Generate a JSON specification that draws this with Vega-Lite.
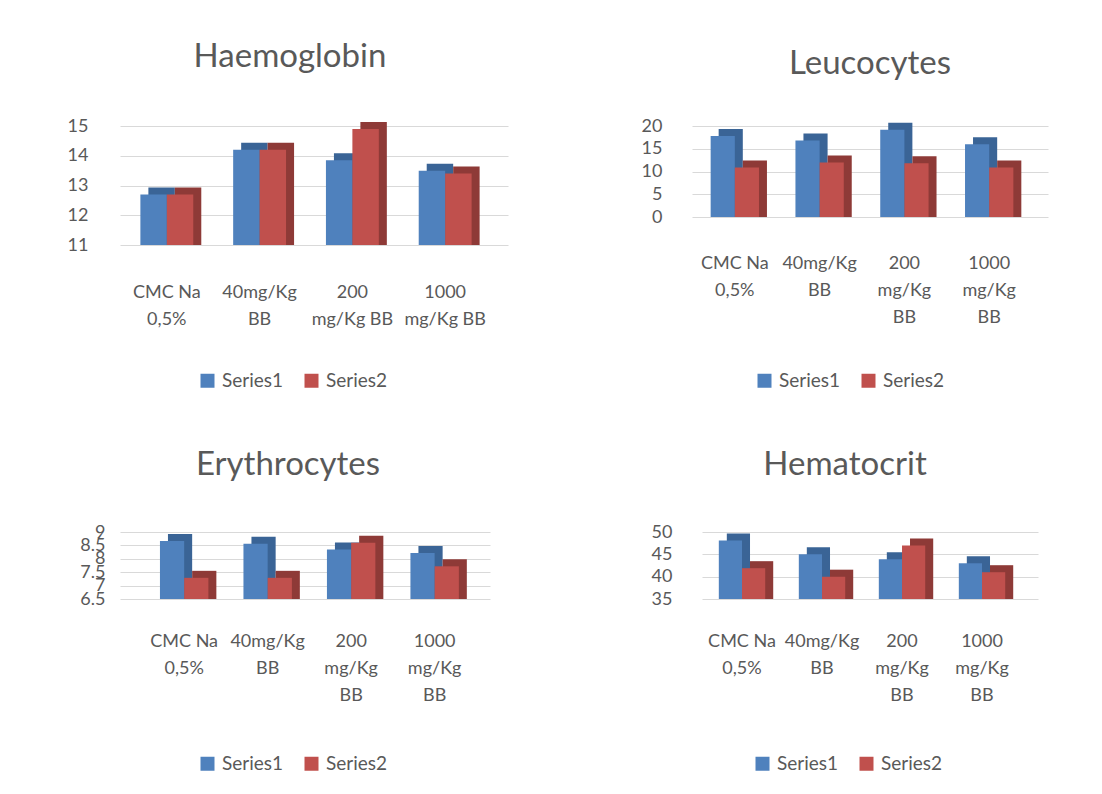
{
  "$schema": "https://vega.github.io/schema/vega-lite/v6.json",
  "background": "white",
  "padding": {"left": 67, "top": 41, "right": 10, "bottom": 10},
  "datasets": {
    "blood": [
      {"panel": "Haemoglobin", "group": "CMC Na 0,5%", "series": "Series1", "value": 12.7},
      {"panel": "Haemoglobin", "group": "CMC Na 0,5%", "series": "Series2", "value": 12.7},
      {"panel": "Haemoglobin", "group": "40mg/Kg BB", "series": "Series1", "value": 14.2},
      {"panel": "Haemoglobin", "group": "40mg/Kg BB", "series": "Series2", "value": 14.2},
      {"panel": "Haemoglobin", "group": "200 mg/Kg BB", "series": "Series1", "value": 13.85},
      {"panel": "Haemoglobin", "group": "200 mg/Kg BB", "series": "Series2", "value": 14.9},
      {"panel": "Haemoglobin", "group": "1000 mg/Kg BB", "series": "Series1", "value": 13.5},
      {"panel": "Haemoglobin", "group": "1000 mg/Kg BB", "series": "Series2", "value": 13.4},
      {"panel": "Leucocytes", "group": "CMC Na 0,5%", "series": "Series1", "value": 17.8},
      {"panel": "Leucocytes", "group": "CMC Na 0,5%", "series": "Series2", "value": 10.9},
      {"panel": "Leucocytes", "group": "40mg/Kg BB", "series": "Series1", "value": 16.8},
      {"panel": "Leucocytes", "group": "40mg/Kg BB", "series": "Series2", "value": 12.0},
      {"panel": "Leucocytes", "group": "200 mg/Kg BB", "series": "Series1", "value": 19.2},
      {"panel": "Leucocytes", "group": "200 mg/Kg BB", "series": "Series2", "value": 11.8},
      {"panel": "Leucocytes", "group": "1000 mg/Kg BB", "series": "Series1", "value": 16.0},
      {"panel": "Leucocytes", "group": "1000 mg/Kg BB", "series": "Series2", "value": 10.9},
      {"panel": "Erythrocytes", "group": "CMC Na 0,5%", "series": "Series1", "value": 8.66},
      {"panel": "Erythrocytes", "group": "CMC Na 0,5%", "series": "Series2", "value": 7.29},
      {"panel": "Erythrocytes", "group": "40mg/Kg BB", "series": "Series1", "value": 8.56},
      {"panel": "Erythrocytes", "group": "40mg/Kg BB", "series": "Series2", "value": 7.29},
      {"panel": "Erythrocytes", "group": "200 mg/Kg BB", "series": "Series1", "value": 8.35},
      {"panel": "Erythrocytes", "group": "200 mg/Kg BB", "series": "Series2", "value": 8.6},
      {"panel": "Erythrocytes", "group": "1000 mg/Kg BB", "series": "Series1", "value": 8.22},
      {"panel": "Erythrocytes", "group": "1000 mg/Kg BB", "series": "Series2", "value": 7.72},
      {"panel": "Hematocrit", "group": "CMC Na 0,5%", "series": "Series1", "value": 48.1},
      {"panel": "Hematocrit", "group": "CMC Na 0,5%", "series": "Series2", "value": 41.9},
      {"panel": "Hematocrit", "group": "40mg/Kg BB", "series": "Series1", "value": 45.0},
      {"panel": "Hematocrit", "group": "40mg/Kg BB", "series": "Series2", "value": 40.0},
      {"panel": "Hematocrit", "group": "200 mg/Kg BB", "series": "Series1", "value": 43.9},
      {"panel": "Hematocrit", "group": "200 mg/Kg BB", "series": "Series2", "value": 47.0},
      {"panel": "Hematocrit", "group": "1000 mg/Kg BB", "series": "Series1", "value": 43.0},
      {"panel": "Hematocrit", "group": "1000 mg/Kg BB", "series": "Series2", "value": 41.0}
    ]
  },
  "data": {"name": "blood"},
  "config": {
    "font": "Lato",
    "view": {"stroke": null},
    "title": {"fontSize": 33, "fontWeight": "normal", "color": "#595959", "anchor": "middle"},
    "axis": {
      "domain": false, "ticks": false, "title": null,
      "labelFontSize": 18, "labelColor": "#595959", "labelFont": "Lato",
      "gridColor": "#d9d9d9", "gridWidth": 1
    },
    "axisX": {"grid": false, "labelAngle": 0, "labelLineHeight": 27, "labelBaseline": "top"},
    "axisY": {"labelOverlap": false, "format": "~g"},
    "legend": {
      "orient": "none", "direction": "horizontal", "title": null,
      "symbolType": "square", "symbolSize": 196, "symbolStrokeWidth": 0,
      "labelFontSize": 19, "labelColor": "#595959", "columnPadding": 18, "labelOffset": 5
    }
  },
  "resolve": {"scale": {"color": "independent", "fill": "independent", "x": "independent", "y": "independent"}, "legend": {"color": "independent"}},
  "spacing": 58,
  "vconcat": [
    {
      "resolve": {"scale": {"color": "independent", "fill": "independent", "x": "independent", "y": "independent"}, "legend": {"color": "independent"}},
      "spacing": 133,
      "hconcat": [
        {
          "width": 388, "height": 119,
          "title": {"text": "Haemoglobin", "offset": 43, "dx": -24},
          "transform": [{"filter": "datum.panel === 'Haemoglobin'"}],
          "encoding": {
            "x": {"field": "group", "type": "nominal", "sort": ["CMC Na 0,5%", "40mg/Kg BB", "200 mg/Kg BB", "1000 mg/Kg BB"],
              "scale": {"paddingInner": 0.43, "paddingOuter": 0.306, "align": 0.359},
              "axis": {"labelPadding": 38, "labelExpr": "datum.label == 'CMC Na 0,5%' ? ['CMC Na','0,5%'] : datum.label == '40mg/Kg BB' ? ['40mg/Kg','BB'] : datum.label == '200 mg/Kg BB' ? ['200','mg/Kg BB'] : ['1000','mg/Kg BB']"}},
            "y": {"field": "value", "type": "quantitative", "scale": {"domain": [11, 15], "zero": false, "nice": false},
              "axis": {"values": [11, 12, 13, 14, 15], "labelPadding": 32}},
            "y2": {"datum": 11}
          },
          "resolve": {"scale": {"xOffset": "independent"}},
          "layer": [
            {"mark": {"type": "bar", "yOffset": -7},
             "encoding": {
               "xOffset": {"field": "series", "type": "nominal", "scale": {"paddingInner": 0, "paddingOuter": 0, "range": [8, 60.9]}},
               "fill": {"field": "series", "type": "nominal", "scale": {"range": ["#3a6496", "#8e3a37"]}, "legend": null}}},
            {"mark": {"type": "bar"},
             "encoding": {
               "xOffset": {"field": "series", "type": "nominal", "scale": {"paddingInner": 0, "paddingOuter": 0}},
               "color": {"field": "series", "type": "nominal", "scale": {"range": ["#4f81bd", "#c0504d"]}, "legend": {"legendX": 78, "legendY": 245}}}}
          ]
        },
        {
          "width": 356, "height": 91,
          "title": {"text": "Leucocytes", "offset": 36, "dx": 0},
          "transform": [{"filter": "datum.panel === 'Leucocytes'"}],
          "encoding": {
            "x": {"field": "group", "type": "nominal", "sort": ["CMC Na 0,5%", "40mg/Kg BB", "200 mg/Kg BB", "1000 mg/Kg BB"],
              "scale": {"paddingInner": 0.43, "paddingOuter": 0.3143, "align": 0.35},
              "axis": {"labelPadding": 37, "labelExpr": "datum.label == 'CMC Na 0,5%' ? ['CMC Na','0,5%'] : datum.label == '40mg/Kg BB' ? ['40mg/Kg','BB'] : datum.label == '200 mg/Kg BB' ? ['200','mg/Kg','BB'] : ['1000','mg/Kg','BB']"}},
            "y": {"field": "value", "type": "quantitative", "scale": {"domain": [0, 20], "nice": false},
              "axis": {"values": [0, 5, 10, 15, 20], "labelPadding": 30}},
            "y2": {"datum": 0}
          },
          "resolve": {"scale": {"xOffset": "independent"}},
          "layer": [
            {"mark": {"type": "bar", "yOffset": -7},
             "encoding": {
               "xOffset": {"field": "series", "type": "nominal", "scale": {"paddingInner": 0, "paddingOuter": 0, "range": [8, 56.3]}},
               "fill": {"field": "series", "type": "nominal", "scale": {"range": ["#3a6496", "#8e3a37"]}, "legend": null}}},
            {"mark": {"type": "bar"},
             "encoding": {
               "xOffset": {"field": "series", "type": "nominal", "scale": {"paddingInner": 0, "paddingOuter": 0}},
               "color": {"field": "series", "type": "nominal", "scale": {"range": ["#4f81bd", "#c0504d"]}, "legend": {"legendX": 63, "legendY": 245}}}}
          ]
        }
      ]
    },
    {
      "resolve": {"scale": {"color": "independent", "fill": "independent", "x": "independent", "y": "independent"}, "legend": {"color": "independent"}},
      "spacing": 161,
      "hconcat": [
        {
          "width": 370, "height": 67,
          "title": {"text": "Erythrocytes", "offset": 41, "dx": -17},
          "transform": [{"filter": "datum.panel === 'Erythrocytes'"}],
          "encoding": {
            "x": {"field": "group", "type": "nominal", "sort": ["CMC Na 0,5%", "40mg/Kg BB", "200 mg/Kg BB", "1000 mg/Kg BB"],
              "scale": {"paddingInner": 0.42, "paddingOuter": 0.4258, "align": 0.562},
              "axis": {"labelPadding": 33, "labelExpr": "datum.label == 'CMC Na 0,5%' ? ['CMC Na','0,5%'] : datum.label == '40mg/Kg BB' ? ['40mg/Kg','BB'] : datum.label == '200 mg/Kg BB' ? ['200','mg/Kg','BB'] : ['1000','mg/Kg','BB']"}},
            "y": {"field": "value", "type": "quantitative", "scale": {"domain": [6.5, 9], "zero": false, "nice": false},
              "axis": {"values": [6.5, 7, 7.5, 8, 8.5, 9], "labelPadding": 15}},
            "y2": {"datum": 6.5}
          },
          "resolve": {"scale": {"xOffset": "independent"}},
          "layer": [
            {"mark": {"type": "bar", "yOffset": -7},
             "encoding": {
               "xOffset": {"field": "series", "type": "nominal", "scale": {"paddingInner": 0, "paddingOuter": 0, "range": [8, 56.4]}},
               "fill": {"field": "series", "type": "nominal", "scale": {"range": ["#3a6496", "#8e3a37"]}, "legend": null}}},
            {"mark": {"type": "bar"},
             "encoding": {
               "xOffset": {"field": "series", "type": "nominal", "scale": {"paddingInner": 0, "paddingOuter": 0}},
               "color": {"field": "series", "type": "nominal", "scale": {"range": ["#4f81bd", "#c0504d"]}, "legend": {"legendX": 78, "legendY": 222}}}}
          ]
        },
        {
          "width": 336, "height": 67,
          "title": {"text": "Hematocrit", "offset": 41, "dx": -25},
          "transform": [{"filter": "datum.panel === 'Hematocrit'"}],
          "encoding": {
            "x": {"field": "group", "type": "nominal", "sort": ["CMC Na 0,5%", "40mg/Kg BB", "200 mg/Kg BB", "1000 mg/Kg BB"],
              "scale": {"paddingInner": 0.42, "paddingOuter": 0.31, "align": 0.339},
              "axis": {"labelPadding": 33, "labelExpr": "datum.label == 'CMC Na 0,5%' ? ['CMC Na','0,5%'] : datum.label == '40mg/Kg BB' ? ['40mg/Kg','BB'] : datum.label == '200 mg/Kg BB' ? ['200','mg/Kg','BB'] : ['1000','mg/Kg','BB']"}},
            "y": {"field": "value", "type": "quantitative", "scale": {"domain": [35, 50], "zero": false, "nice": false},
              "axis": {"values": [35, 40, 45, 50], "labelPadding": 30}},
            "y2": {"datum": 35}
          },
          "resolve": {"scale": {"xOffset": "independent"}},
          "layer": [
            {"mark": {"type": "bar", "yOffset": -7},
             "encoding": {
               "xOffset": {"field": "series", "type": "nominal", "scale": {"paddingInner": 0, "paddingOuter": 0, "range": [8, 54.4]}},
               "fill": {"field": "series", "type": "nominal", "scale": {"range": ["#3a6496", "#8e3a37"]}, "legend": null}}},
            {"mark": {"type": "bar"},
             "encoding": {
               "xOffset": {"field": "series", "type": "nominal", "scale": {"paddingInner": 0, "paddingOuter": 0}},
               "color": {"field": "series", "type": "nominal", "scale": {"range": ["#4f81bd", "#c0504d"]}, "legend": {"legendX": 51, "legendY": 222}}}}
          ]
        }
      ]
    }
  ]
}
